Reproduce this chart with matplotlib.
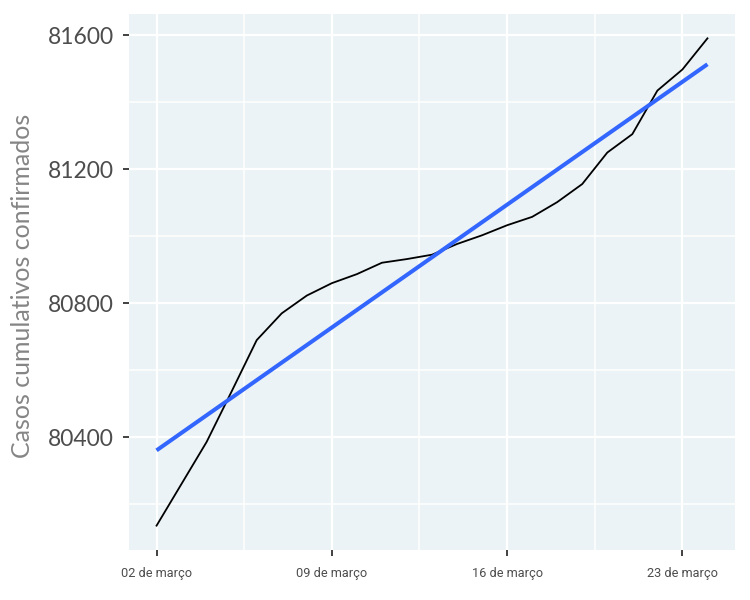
import matplotlib
matplotlib.use("Agg")
import matplotlib.pyplot as plt
import matplotlib.dates as mdates
import numpy as np
import pandas as pd

dates = pd.date_range("2020-03-02", "2020-03-24", freq="D")
cases = [80136, 80261, 80386, 80537, 80690, 80770, 80823, 80860, 80887, 80921,
         80932, 80945, 80977, 81003, 81033, 81058, 81102, 81156, 81250, 81305,
         81435, 81498, 81591]
x_ticks = pd.to_datetime(["2020-03-02", "2020-03-09", "2020-03-16", "2020-03-23"])
x_tick_labels = ["02 de março", "09 de março", "16 de março", "23 de março"]
y_ticks = [80400, 80800, 81200, 81600]
y_label = "Casos cumulativos confirmados"

fig = plt.figure(figsize=(7.5, 6), dpi=100)
ax = fig.add_axes([0.172, 0.0833, 0.808, 0.8934])
ax.set_facecolor("#EBF3F6")

xn = mdates.date2num(dates)
coef = np.polyfit(xn, cases, 1)
fit = np.polyval(coef, xn)

ax.plot(xn, cases, color="black", lw=1.3, zorder=3)
ax.plot(xn, fit, color="#3366FF", lw=2.9, zorder=4, solid_capstyle="butt")

xt = mdates.date2num(x_ticks)
ax.set_xticks(xt)
ax.set_xticklabels(x_tick_labels, fontsize=9.2, color="#4D4D4D", family="Roboto")
ax.set_yticks(y_ticks)
ax.set_yticklabels([str(v) for v in y_ticks], fontsize=16.5, color="#4D4D4D", family="Lato")
minor_x = [xn[0] + 3.5, xn[0] + 10.5, xn[0] + 17.5]
ax.set_xticks(minor_x, minor=True)
ax.set_yticks([80200, 80600, 81000, 81400], minor=True)

span = xn[-1] - xn[0]
ax.set_xlim(xn[0] - 0.05 * span, xn[-1] + 0.05 * span)
yr = max(cases) - min(cases)
ax.set_ylim(min(cases) - 0.05 * yr, max(cases) + 0.05 * yr)

ax.tick_params(which="minor", length=0)
ax.tick_params(which="major", length=4.3, width=1.3, color="#333333")
ax.tick_params(axis="y", which="major", pad=6.5)
ax.tick_params(axis="x", which="major", pad=8)
ax.grid(which="major", color="white", lw=1.6)
ax.grid(which="minor", color="white", lw=1.1)
ax.set_axisbelow(True)
for s in ax.spines.values():
    s.set_visible(False)

ax.set_ylabel(y_label, fontsize=18, color="#858585", family="Lato")
ax.yaxis.set_label_coords(-0.157, 0.4925)

fig.savefig("out.png", dpi=100)
